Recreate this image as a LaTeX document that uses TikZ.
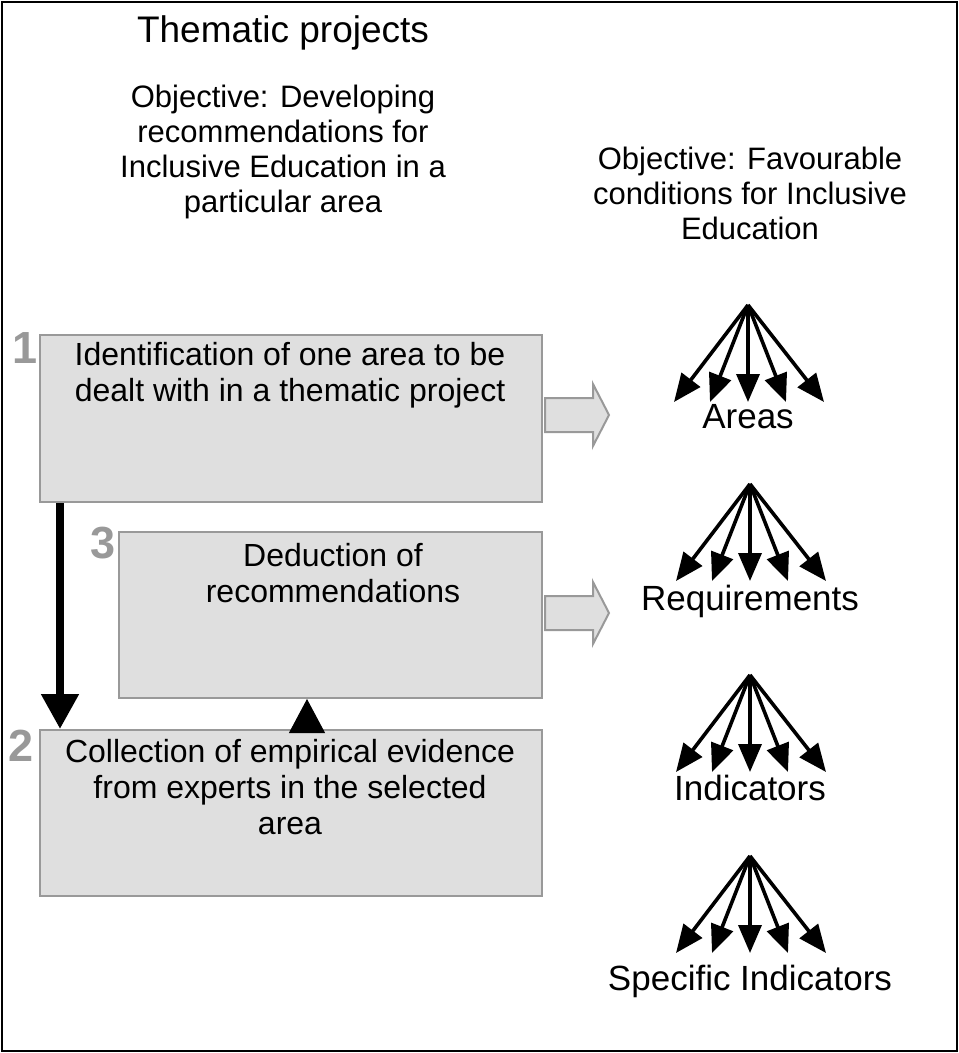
\documentclass[tikz,border=0pt]{standalone}
\usepackage{fontspec}
\setmainfont{Liberation Sans}
\usetikzlibrary{arrows.meta,calc}
\definecolor{boxfill}{HTML}{DFDFDF}
\definecolor{boxline}{HTML}{999999}
\begin{document}
\begin{tikzpicture}[x=1pt,y=-1pt,
 box/.style={draw=boxline,fill=boxfill,line width=2pt,inner sep=0,anchor=north west},
 num/.style={text=boxline,font=\fontsize{45}{45}\selectfont\bfseries,inner sep=0},
 txt/.style={align=center,font=\fontsize{31}{35}\selectfont,inner sep=0},
 boxtxt/.style={align=center,font=\fontsize{32}{36}\selectfont,inner sep=0},
 lbl/.style={font=\fontsize{35}{38}\selectfont,inner sep=0,anchor=base},
 fanarrow/.style={line width=3.6pt,-{Triangle[length=28pt,width=23pt]}},
 blockarrow/.style={draw=boxline,fill=boxfill,line width=2pt,line join=miter}]
\useasboundingbox (0,0) rectangle (959,1053);
\draw[line width=2pt] (1.5,1.5) rectangle (957,1051);

% titles
\node[font=\fontsize{37}{40}\selectfont,inner sep=0] (title) at (283,33) {Thematic projects};
\node[txt] (objL) at (283,152) {Objective: Developing\\recommendations for\\Inclusive Education in a\\particular area};
\node[txt] (objR) at (750,193) {Objective: Favourable\\conditions for Inclusive\\Education};

% boxes
\node[box,minimum width=502pt,minimum height=167pt] (b1) at (39,334) {};
\node[box,minimum width=423pt,minimum height=166pt] (b3) at (118,531) {};
\node[box,minimum width=502pt,minimum height=166pt] (b2) at (39,729) {};

\node[boxtxt] (t1) at (290,375) {Identification of one area to be\\dealt with in a thematic project};
\node[boxtxt] (t3) at (333,573) {Deduction of\\recommendations};
\node[boxtxt] (t2) at (290,787) {Collection of empirical evidence\\from experts in the selected\\area};

\node[num] (n1) at (25,348) {1};
\node[num] (n3) at (103,543) {3};
\node[num] (n2) at (21,746) {2};

% connectors between boxes
\coordinate (v1) at ($(b1.south west)+(21,0)$);
\coordinate (v2) at (v1 |- b2.north);
\draw[line width=8pt,-{Triangle[length=35pt,width=36pt]}] (v1) -- (v2);
\coordinate (u1) at ($(b2.north west)+(268,0)$);
\coordinate (u2) at (u1 |- b3.south);
\draw[line width=1pt,-{Triangle[length=34pt,width=36pt]}] (u1) -- (u2);

% block arrows
\draw[blockarrow] (545,398) -- (593,398) -- (593,384) -- (609,415) -- (593,446) -- (593,432) -- (545,432) -- cycle;
\draw[blockarrow] (545,596) -- (593,596) -- (593,582) -- (609,613) -- (593,644) -- (593,630) -- (545,630) -- cycle;

% fans
\coordinate (a1) at (748,305);
\coordinate (a2) at (750,484);
\coordinate (a3) at (750,675);
\coordinate (a4) at (750,856);
\foreach \a in {a1,a2,a3,a4}{
  \foreach \dx in {-74,-38,0,38,76}{
    \draw[fanarrow] (\a) -- ($(\a)+(\dx,97)$);
  }
}
\node[lbl] (l1) at (748,428) {Areas};
\node[lbl] (l2) at (750,610) {Requirements};
\node[lbl] (l3) at (750,800) {Indicators};
\node[lbl] (l4) at (750,990) {Specific Indicators};
\end{tikzpicture}
\end{document}
